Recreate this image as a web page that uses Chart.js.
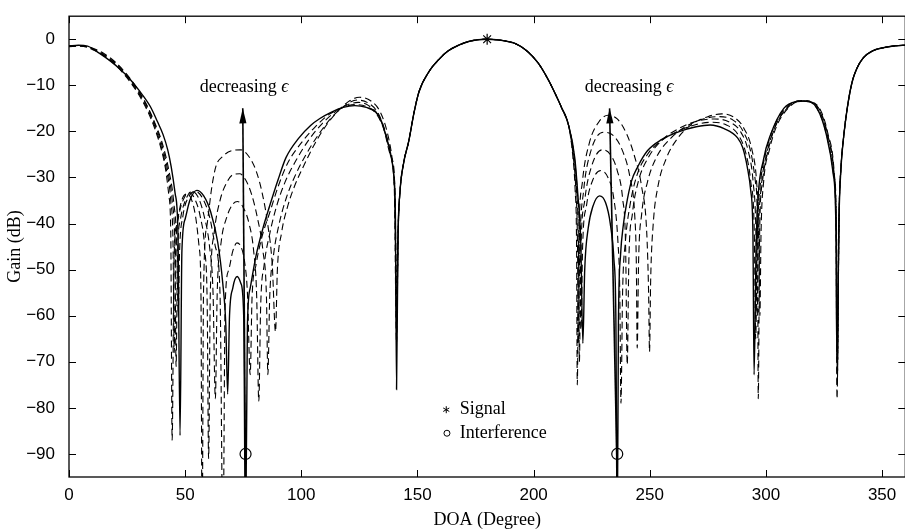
<!DOCTYPE html>
<html>
<head>
<meta charset="utf-8">
<script src="https://cdn.jsdelivr.net/npm/chart.js@4.4.1/dist/chart.umd.min.js"></script>
<style>
  html, body { margin: 0; padding: 0; background: #fff; overflow: hidden; }
  #wrap { width: 905px; height: 531px; overflow: hidden; }
</style>
</head>
<body>
<div id="wrap"><canvas id="gainChart" width="912" height="531"></canvas></div>
<script>
// tick labels
const xTicks = [0, 50, 100, 150, 200, 250, 300, 350];
const yTicks = [0, -10, -20, -30, -40, -50, -60, -70, -80, -90];

// main lobe around the signal, shared by every curve (deg, dB)
const mainLobe = [[142.5,-33],[144,-27],[146.3,-22],[148.5,-16],[150.6,-11.5],[155,-7],[159,-4.5],[163,-2.6],
  [167.7,-1.3],[172,-0.5],[176,-0.1],[180,0],[184,-0.1],[188,-0.4],[192,-0.9],[197,-2.5],[202,-5.2],
  [206,-8.5],[209,-11.5],[212,-14.8],[215,-18.6]];
const mainRight = [[331.5,-38],[332.3,-28],[333.5,-21],[335,-15],[337,-9.5],[339,-6.5],[342,-4],
  [346,-2.5],[351,-1.8],[356,-1.4],[360,-1.3]];

// solid curve
const solidLeft = [[0,-1.5],[4,-1.3],[8,-1.5],[13,-3],[18,-4.8],[22,-6.5],[26,-8.5],[30,-11],[35,-14.6],
  [38,-17.8],[40.5,-20.7],[42.5,-24],[44,-27.7],[45.7,-33.5],[46.9,-42],[47.8,-86],[48.6,-46],[50,-39],
  [52,-35],[55,-32.8],[58,-34],[61,-37.5],[64,-44],[66.2,-53],[67.5,-62],[68.3,-77],[69.1,-60],[70.5,-54],
  [72.4,-51.5],[74,-53],[75.2,-60],[76,-110],[76.8,-62],[78,-54],[80.5,-47],[83.5,-41],[86.3,-36.3],
  [90,-30.5],[93.4,-25.7],[99,-21.4],[104,-18.7],[108,-17.2],[113,-15.8],[118,-14.8],[123,-14.4],
  [128,-14.8],[132,-15.8],[134.5,-17.8],[136.3,-20.7],[138.3,-24.5],[139.7,-29],[140.5,-38],[141,-76],[141.6,-44]];
const solidRight = [[217.7,-25.7],[219,-33.5],[220.3,-44],[221.2,-66],[222,-50],[223.5,-41],[225.5,-36.3],
  [228.4,-34],[231,-35.5],[233,-40],[234.6,-48],[235.4,-60],[236,-110],[236.5,-62],[237.4,-47],[238.7,-40],
  [239.8,-36.3],[242,-31],[245,-27.5],[249,-24.2],[255,-21.8],[263,-20],[270,-19],[276,-18.6],[282,-19.4],
  [287.8,-21.4],[290,-23.5],[292,-27.8],[293.5,-33],[294.4,-42],[294.9,-72.8],[295.8,-45],[296.4,-36],
  [299,-26],[302,-20.7],[307.7,-15],[313.4,-13.5],[316.3,-13.4],[322,-15],[326,-20.7],[329,-29.3],
  [330.1,-40],[330.5,-68.6]];

// dashed curves, largest epsilon change first
const epsA = [[0,-1.6],[5,-1.5],[10,-2.2],[15,-3.6],[20,-5.6],[25,-8.4],[30,-12],[34,-15.8],[37,-19.5],
  [39.5,-23.5],[41.5,-28],[43,-34],[43.8,-42],[44.4,-87],[45.2,-48],[46.5,-40],[48.5,-35],[50.5,-33.6],
  [52.5,-34.5],[54.5,-38.5],[56,-45],[56.8,-55],[57.3,-110],[57.9,-55],[59.5,-40],[61.5,-32],[63.3,-27.5],
  [66,-25.5],[70,-24.2],[74,-24],[77.5,-25.5],[80.5,-28.5],[83,-33],[85.5,-40],[87.5,-49],[88.9,-63.5],
  [89.7,-50],[91.5,-42],[94,-36.5],[97,-32],[101,-27.5],[106,-22.5],[111,-18.5],[116,-15.5],[121,-13.3],
  [125,-12.6],[130,-13.4],[134,-15.8],[137,-20.2],[139,-25.5],[140.3,-33],[141.1,-58],[141.8,-40]];
const epsARight = [[216.8,-25],[217.9,-33],[218.5,-45],[218.8,-75],[219.4,-45],[221,-31],[224,-22.5],
  [228,-18],[232,-16.5],[236,-17.3],[240,-20.5],[243.5,-25.5],[246.5,-32],[248.7,-42],[249.5,-55],
  [249.9,-67.8],[250.4,-52],[251.5,-40],[253.5,-32],[257,-26],[262,-21.5],[268,-18.5],[275,-16.8],
  [281,-16.2],[286.5,-17],[290.5,-19.3],[294,-24],[296,-31],[297,-42],[297.4,-60],[297.9,-42],[299,-31],
  [301.5,-24],[304.5,-19],[309.5,-15],[315,-13.4],[318,-13.5],[323.3,-15.2],[326.7,-20.5],[329.4,-29],
  [330.4,-42],[330.8,-70]];

const epsB = [[0,-1.5],[5,-1.4],[10,-2.1],[15,-3.5],[20,-5.4],[25,-8.2],[30,-11.7],[34,-15.4],[37,-19],
  [39.8,-23.5],[42,-28.5],[43.8,-35],[44.8,-45],[45.3,-68],[45.9,-46],[47.2,-38.5],[49.5,-34.5],
  [51.8,-33.3],[54,-34.5],[56.5,-38.5],[58.5,-46],[59.5,-58],[60.1,-91],[60.8,-56],[62.5,-42],[65,-35],
  [68,-31],[71,-29.3],[73.5,-29.2],[76,-30.5],[78.5,-33.5],[81,-38.5],[83.5,-46],[85,-56],[85.6,-72.8],
  [86.4,-56],[88,-47],[90.5,-40],[93.5,-34.5],[97,-30],[101.5,-25.5],[107,-21],[113,-17],[119,-14.3],
  [124,-13.2],[129,-13.9],[133,-16],[136,-19.8],[138.6,-25.2],[140.2,-33],[141,-55],[141.7,-40]];
const epsBRight = [[217,-25.2],[218.2,-33],[218.9,-45],[219.2,-66],[219.9,-45],[221.5,-33],[224.5,-24.5],
  [230,-20.2],[234.5,-21],[238.5,-24.5],[241.5,-30],[243.5,-38],[244.2,-48],[244.6,-67],[245.2,-48],
  [246.5,-38],[249,-31],[253,-25.5],[259,-21.5],[266,-18.8],[273,-17.3],[280,-16.8],[286,-17.6],
  [290,-19.8],[293.5,-24.5],[295.5,-31],[296.4,-42],[296.7,-78],[297.3,-42],[298.5,-31],[301,-24],
  [304,-19],[309,-15],[314.5,-13.4],[317.5,-13.5],[323,-15.2],[326.5,-20.5],[329.3,-29],[330.3,-42],[330.7,-75]];

const epsC = [[0,-1.5],[5,-1.4],[10,-2],[15,-3.3],[20,-5.2],[25,-7.9],[30,-11.4],[34,-15],[37,-18.5],
  [40,-23],[42.5,-28.5],[44.5,-35.5],[45.6,-46],[46.1,-71],[46.7,-47],[48,-39],[50.5,-34.5],[53,-33],
  [55.5,-34.2],[58,-38],[60.5,-45],[62,-55],[63,-78],[63.8,-55],[65.5,-44],[68,-38.5],[70.5,-35.8],
  [72.5,-35.2],[75,-36.5],[77.5,-40],[79.5,-46],[80.8,-56],[81.7,-78.6],[82.5,-58],[84,-49],[86.5,-42],
  [89.5,-36],[93,-31],[97.5,-26.5],[103,-22],[109,-18.3],[115,-15.6],[120,-14.2],[124.5,-13.7],
  [129,-14.4],[133,-16.4],[136,-20.2],[138.5,-25.5],[140.2,-34],[141,-62],[141.7,-41]];
const epsCRight = [[217.3,-25.3],[218.5,-33],[219.3,-45],[219.7,-70],[220.3,-47],[222,-35],[225,-27.5],
  [229.5,-24],[233,-25],[236,-28.5],[238.3,-34.5],[239.6,-45],[240.3,-70.6],[241,-48],[242.5,-38],
  [245,-31],[249,-26],[255,-22],[262,-19.5],[270,-17.8],[278,-17.3],[284,-17.9],[289,-20],[292.5,-24.5],
  [294.5,-31],[295.7,-42],[296.2,-60],[296.8,-42],[298,-32],[300.5,-24.5],[303.5,-19.5],[308.5,-15.3],
  [314,-13.4],[317,-13.4],[322.5,-15],[326.3,-20.5],[329.2,-29],[330.3,-42],[330.7,-72]];

const epsD = [[0,-1.5],[5,-1.4],[10,-1.9],[15,-3.1],[20,-5],[25,-7.7],[30,-11.2],[34,-14.8],[37,-18.2],
  [40,-22.3],[43,-28.5],[45,-35],[46.4,-45],[47,-60],[47.6,-46],[49,-38.5],[51.5,-34.2],[54.5,-33],
  [57.5,-34.5],[60.5,-38.5],[63,-45],[65,-55],[66.3,-110],[67.2,-58],[68.8,-50],[70.5,-46],[72.3,-44.2],
  [74,-45],[75.5,-48],[76.8,-55],[78,-72.8],[78.8,-56],[80.5,-49],[83,-43],[86.5,-37.5],[90,-32],
  [94,-27],[100,-22.5],[106,-19],[112,-16.3],[118,-14.8],[123,-14.2],[128,-14.6],[132,-16],[135.5,-19.5],
  [138,-24.6],[140,-32],[141,-66],[141.7,-42]];
const epsDRight = [[217.5,-25.5],[218.8,-33],[219.8,-43],[220.4,-63],[221.1,-45],[222.8,-36],[225.5,-30.5],
  [229,-28.5],[232,-30],[234.5,-34.5],[236.3,-44],[237.1,-55],[237.6,-79],[238.3,-55],[239.5,-44],
  [241.5,-36],[244.5,-29.5],[249,-25],[255,-22],[262,-20],[270,-18.5],[277,-18],[283,-18.6],[288,-20.7],
  [291.5,-25],[293.5,-31],[295,-42],[295.6,-65],[296.3,-42],[297.5,-32],[300,-24.5],[303,-19.5],
  [308,-15.2],[313.5,-13.4],[316.5,-13.3],[322,-15],[326,-20.5],[329,-29],[330.2,-42],[330.6,-78]];

// markers and arrows
const signalPts = [[180, 0]];
const interfPts = [[76, -90], [236, -90]];
const arrowL = [[76, -95], [74.8, -15]];
const arrowR = [[236, -95], [232.7, -15]];

const toXY = arr => arr.map(p => ({x: p[0], y: p[1]}));
const curve = (parts, dashed) => ({
  type: 'line',
  data: toXY([].concat(...parts)),
  borderColor: '#000',
  borderWidth: dashed ? 1.1 : 1.4,
  borderDash: dashed ? [7, 4] : [],
  pointRadius: 0,
  cubicInterpolationMode: 'monotone',
  fill: false
});

const serif = '"Liberation Serif", "Times New Roman", serif';
const sans = '"Liberation Sans", Arial, sans-serif';

const notes = {
  decL: [56.3, -10.4], decR: [222, -10.4],
  sigText: [168.2, -80.4], intText: [168.2, -85.5],
  sigMark: [162.4, -80.4], intMark: [162.7, -85.5]
};

const decor = {
  id: 'decor',
  afterDatasetsDraw(chart) {
    const {ctx, chartArea: a, scales: {x, y}} = chart;
    const px = v => x.getPixelForValue(v), py = v => y.getPixelForValue(v);
    ctx.save();
    // box and inward ticks
    ctx.strokeStyle = '#000';
    ctx.lineWidth = 1.3;
    ctx.strokeRect(a.left, a.top, a.right - a.left, a.bottom - a.top);
    ctx.lineWidth = 1;
    ctx.beginPath();
    xTicks.forEach(v => {
      const p = Math.round(px(v)) + 0.5;
      ctx.moveTo(p, a.bottom); ctx.lineTo(p, a.bottom - 7);
      ctx.moveTo(p, a.top); ctx.lineTo(p, a.top + 7);
    });
    yTicks.forEach(v => {
      const p = Math.round(py(v)) + 0.5;
      ctx.moveTo(a.left, p); ctx.lineTo(a.left + 7, p);
      ctx.moveTo(a.right, p); ctx.lineTo(a.right - 7, p);
    });
    ctx.stroke();

    // arrow heads
    ctx.fillStyle = '#000';
    [arrowL, arrowR].forEach(([p0, p1]) => {
      const x0 = px(p0[0]), y0 = py(p0[1]), x1 = px(p1[0]), y1 = py(p1[1]);
      const ang = Math.atan2(y1 - y0, x1 - x0);
      const len = 15, hw = 3.6;
      const bx = x1 - len * Math.cos(ang), by = y1 - len * Math.sin(ang);
      ctx.beginPath();
      ctx.moveTo(x1, y1);
      ctx.lineTo(bx + hw * Math.sin(ang), by - hw * Math.cos(ang));
      ctx.lineTo(bx - hw * Math.sin(ang), by + hw * Math.cos(ang));
      ctx.closePath();
      ctx.fill();
    });

    // text
    ctx.textBaseline = 'middle';
    ctx.textAlign = 'left';
    [notes.decL, notes.decR].forEach(p => {
      ctx.font = '18px ' + serif;
      const tx = px(p[0]), ty = py(p[1]);
      ctx.fillText('decreasing ', tx, ty);
      const w = ctx.measureText('decreasing ').width;
      ctx.font = 'italic 18px ' + serif;
      ctx.fillText('\u03F5', tx + w, ty);
    });
    ctx.font = '18px ' + serif;
    ctx.fillText('Signal', px(notes.sigText[0]), py(notes.sigText[1]));
    ctx.fillText('Interference', px(notes.intText[0]), py(notes.intText[1]));

    // legend symbols
    const sx = px(notes.sigMark[0]), sy = py(notes.sigMark[1]);
    ctx.beginPath();
    for (let k = 0; k < 3; k++) {
      const t = Math.PI / 2 + k * Math.PI / 3;
      ctx.moveTo(sx - 3.5 * Math.cos(t), sy - 3.5 * Math.sin(t));
      ctx.lineTo(sx + 3.5 * Math.cos(t), sy + 3.5 * Math.sin(t));
    }
    ctx.stroke();
    ctx.beginPath();
    ctx.arc(px(notes.intMark[0]), py(notes.intMark[1]), 3, 0, 2 * Math.PI);
    ctx.stroke();
    ctx.restore();
  }
};

new Chart(document.getElementById('gainChart'), {
  data: {
    datasets: [
      curve([epsA, mainLobe, epsARight, mainRight], true),
      curve([epsB, mainLobe, epsBRight, mainRight], true),
      curve([epsC, mainLobe, epsCRight, mainRight], true),
      curve([epsD, mainLobe, epsDRight, mainRight], true),
      curve([solidLeft, mainLobe, solidRight, mainRight], false),
      {type: 'line', data: toXY(arrowL), borderColor: '#000', borderWidth: 1.6, pointRadius: 0, tension: 0},
      {type: 'line', data: toXY(arrowR), borderColor: '#000', borderWidth: 1.6, pointRadius: 0, tension: 0},
      {type: 'scatter', data: toXY(signalPts), pointStyle: 'star', pointRadius: 5.5,
        borderColor: '#000', borderWidth: 1.2, backgroundColor: '#000'},
      {type: 'scatter', data: toXY(interfPts), pointStyle: 'circle', pointRadius: 5.5,
        borderColor: '#000', borderWidth: 1.2, backgroundColor: 'rgba(0,0,0,0)'}
    ]
  },
  options: {
    responsive: false,
    animation: false,
    layout: {padding: {top: 5, right: 3, left: 0, bottom: 0}},
    plugins: {legend: {display: false}, tooltip: {enabled: false}},
    scales: {
      x: {
        type: 'linear', min: 0, max: 360,
        afterBuildTicks: s => { s.ticks = xTicks.map(v => ({value: v})); },
        afterFit: s => { s.height = 54; },
        grid: {display: false},
        border: {display: false},
        ticks: {padding: 0, color: '#000', maxRotation: 0, font: {family: sans, size: 17}},
        title: {display: true, text: 'DOA (Degree)', color: '#000', padding: 0,
          font: {family: serif, size: 18}}
      },
      y: {
        type: 'linear', min: -95, max: 5,
        afterBuildTicks: s => { s.ticks = yTicks.map(v => ({value: v})); },
        afterFit: s => { s.width = 69; },
        grid: {display: false},
        border: {display: false},
        ticks: {padding: 6, color: '#000', font: {family: sans, size: 17},
          callback: v => String(v).replace('-', '\u2212')},
        title: {display: true, text: 'Gain (dB)', color: '#000', padding: {top: 4, bottom: 0},
          font: {family: serif, size: 18}}
      }
    }
  },
  plugins: [decor]
});
</script>
</body>
</html>
